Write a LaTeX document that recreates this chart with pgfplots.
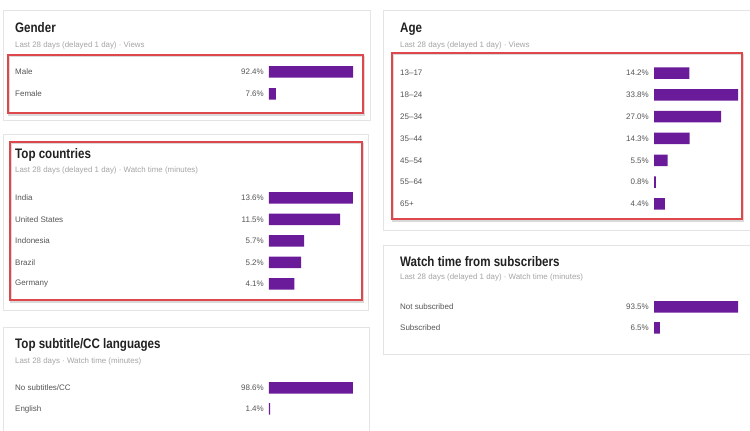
\documentclass[border=0pt]{standalone}
\usepackage{pgfplots}
\pgfplotsset{compat=1.18}
\usepackage{pgfplotstable}
\usepackage{fontspec}
\setmainfont{Liberation Sans}
\newfontfamily\titfont[FakeStretch=0.84]{Liberation Sans}
\definecolor{barc}{RGB}{106,27,154}
\definecolor{redb}{RGB}{222,72,76}
\definecolor{cardb}{RGB}{228,228,228}
\definecolor{titc}{RGB}{33,33,33}
\definecolor{subc}{RGB}{165,165,165}
\definecolor{labc}{RGB}{85,85,85}
\newcommand{\lab}{\fontsize{8}{9.6}\selectfont}
\newcommand{\tit}{\titfont\fontsize{13.8}{16}\selectfont\bfseries}
\newcommand{\subt}{\fontsize{7.9}{9.4}\selectfont}

\pgfplotstableread[col sep=comma]{
y,v,name
0,92.4,Male
1,7.6,Female
}\gender
\pgfplotstableread[col sep=comma]{
y,v,name
0,13.6,India
1,11.5,United States
2,5.7,Indonesia
3,5.2,Brazil
4,4.1,Germany
}\countries
\pgfplotstableread[col sep=comma]{
y,v,name
0,98.6,No subtitles/CC
1,1.4,English
}\subs
\pgfplotstableread[col sep=comma]{
y,v,name
0,14.2,13–17
1,33.8,18–24
2,27.0,25–34
3,14.3,35–44
4,5.5,45–54
5,0.8,55–64
6,4.4,65+
}\age
\pgfplotstableread[col sep=comma]{
y,v,name
0,93.5,Not subscribed
1,6.5,Subscribed
}\watch

\pgfplotsset{panel/.style={
  scale only axis, width=84pt, xmin=0, enlargelimits=false, y dir=reverse,
  axis line style={draw=none}, xtick=\empty, ytick=data,
  major tick length=0pt, clip=false, anchor=north west,
  yticklabel style={anchor=west, inner sep=0pt, xshift=-254pt, font=\lab, text=labc},
  /pgf/number format/assume math mode=true,
}}
\newcommand{\panelplots}[1]{%
  \addplot[xbar, bar width=11.5pt, fill=barc, draw=none] table[x=v,y=y]{#1};
  \addplot[draw=none, point meta=explicit,
    nodes near coords={\pgfmathprintnumber[fixed,fixed zerofill,precision=1]{\pgfplotspointmeta}\%},
    nodes near coords style={anchor=east, inner sep=0pt, xshift=-5pt, font=\lab, text=labc}]
    table[x expr=0, y=y, meta=v]{#1};
}

\begin{document}
\begin{tikzpicture}
\clip (0pt,0pt) rectangle (750pt,431pt);
\fill[white] (0pt,0pt) rectangle (750pt,431pt);
% cards
\draw[cardb, line width=0.8pt] (3pt,421pt) rectangle (370pt,311pt);
\draw[cardb, line width=0.8pt] (3pt,297pt) rectangle (368pt,121pt);
\draw[cardb, line width=0.8pt] (3pt,104pt) rectangle (369pt,-10pt);
\draw[cardb, line width=0.8pt] (383pt,421pt) rectangle (770pt,201pt);
\draw[cardb, line width=0.8pt] (383pt,186pt) rectangle (770pt,77pt);
% titles
\node[anchor=base west, inner sep=0pt, text=titc] at (15pt,398pt) {\tit Gender};
\node[anchor=base west, inner sep=0pt, text=subc] at (15pt,383.5pt) {\subt Last 28 days (delayed 1 day) · Views};
\node[anchor=base west, inner sep=0pt, text=titc] at (15pt,272.7pt) {\tit Top countries};
\node[anchor=base west, inner sep=0pt, text=subc] at (15pt,258.3pt) {\subt Last 28 days (delayed 1 day) · Watch time (minutes)};
\node[anchor=base west, inner sep=0pt, text=titc] at (15pt,82.7pt) {\tit Top subtitle/CC languages};
\node[anchor=base west, inner sep=0pt, text=subc] at (15pt,67pt) {\subt Last 28 days · Watch time (minutes)};
\node[anchor=base west, inner sep=0pt, text=titc] at (400pt,398pt) {\tit Age};
\node[anchor=base west, inner sep=0pt, text=subc] at (400pt,383.5pt) {\subt Last 28 days (delayed 1 day) · Views};
\node[anchor=base west, inner sep=0pt, text=titc] at (400pt,164pt) {\tit Watch time from subscribers};
\node[anchor=base west, inner sep=0pt, text=subc] at (400pt,151.7pt) {\subt Last 28 days (delayed 1 day) · Watch time (minutes)};

\begin{axis}[panel, at={(269pt,370pt)}, height=44pt, ymin=-0.5, ymax=1.5, xmax=92.4,
  yticklabels from table={\gender}{name}]
\panelplots{\gender}
\end{axis}
\begin{axis}[panel, at={(269pt,243.75pt)}, height=107.5pt, ymin=-0.5, ymax=4.5, xmax=13.6,
  yticklabels from table={\countries}{name}]
\panelplots{\countries}
\end{axis}
\begin{axis}[panel, at={(269pt,53.5pt)}, height=42pt, ymin=-0.5, ymax=1.5, xmax=98.6,
  yticklabels from table={\subs}{name}]
\panelplots{\subs}
\end{axis}
\begin{axis}[panel, at={(654pt,368.9pt)}, height=152.8pt, ymin=-0.5, ymax=6.5, xmax=33.8,
  yticklabels from table={\age}{name}]
\panelplots{\age}
\end{axis}
\begin{axis}[panel, at={(654pt,134.5pt)}, height=42pt, ymin=-0.5, ymax=1.5, xmax=93.5,
  yticklabels from table={\watch}{name}]
\panelplots{\watch}
\end{axis}

% red highlight boxes
\begin{scope}[line width=1.8pt]
\draw[black!15, line width=1.2pt] (9pt,374.5pt) rectangle (364pt,316pt);
\draw[redb] (8pt,376pt) rectangle (363pt,318pt);
\draw[black!15, line width=1.2pt] (11pt,287.5pt) rectangle (363pt,129pt);
\draw[redb] (10pt,289pt) rectangle (362pt,131pt);
\draw[black!15, line width=1.2pt] (393pt,376.5pt) rectangle (743pt,210pt);
\draw[redb] (392pt,378pt) rectangle (742pt,212pt);
\end{scope}
\end{tikzpicture}
\end{document}
